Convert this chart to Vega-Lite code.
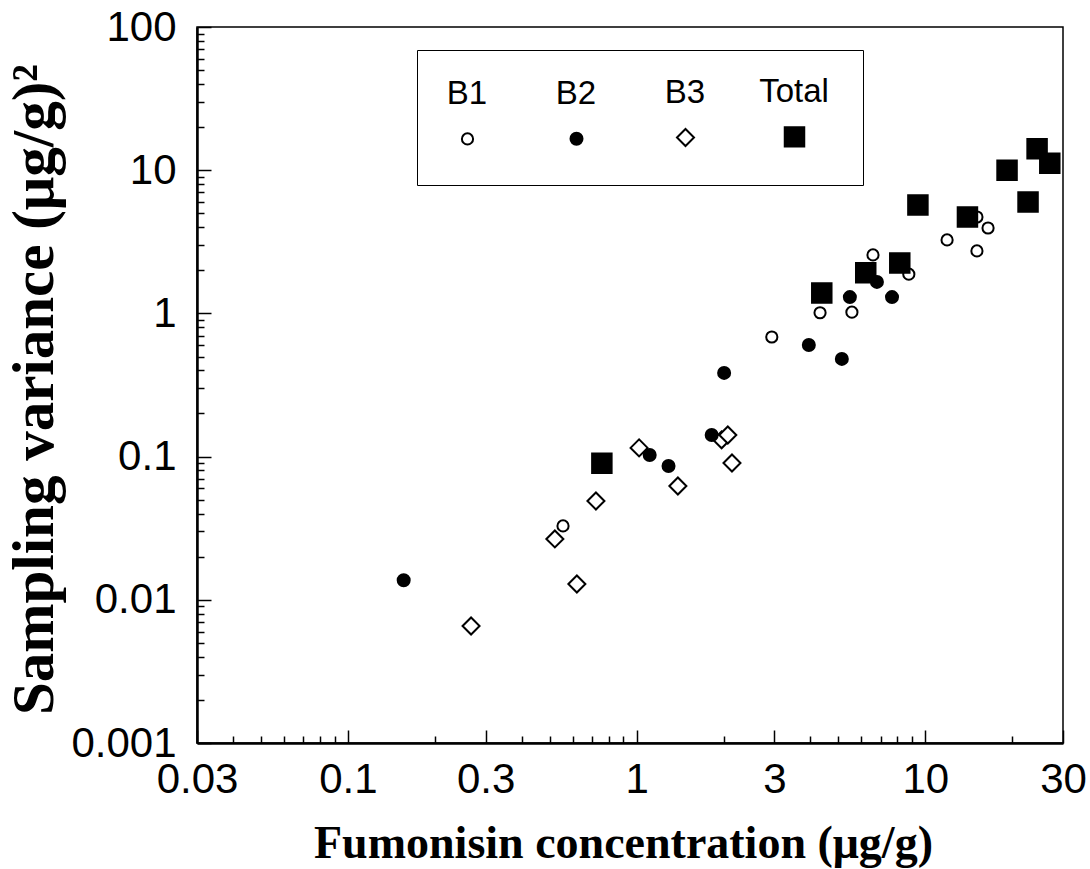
{
  "$schema": "https://vega.github.io/schema/vega-lite/v6.json",
  "width": 866,
  "height": 716,
  "autosize": "none",
  "padding": {"left": 197, "top": 27, "right": 27, "bottom": 126},
  "background": "white",
  "config": {
    "view": {"stroke": "black", "strokeWidth": 1.5},
    "style": {"guide-label": {"lineHeight": 89}},
    "axis": {
      "domainColor": "black",
      "domainWidth": 2.5,
      "tickColor": "black",
      "tickWidth": 1.5,
      "labelColor": "black",
      "labelFont": "Liberation Sans",
      "labelFontSize": 42,
      "labelFlush": false,
      "labelOverlap": false,
      "labelBound": false,
      "titleColor": "black",
      "titleFont": "Liberation Serif",
      "titleFontWeight": "bold",
      "grid": false
    }
  },
  "layer": [
    {
      "data": {
        "values": [
          {"s": "B3", "x": 0.267, "y": 0.00656},
          {"s": "B3", "x": 0.621, "y": 0.0129},
          {"s": "B3", "x": 0.521, "y": 0.0266},
          {"s": "B3", "x": 0.723, "y": 0.049},
          {"s": "B3", "x": 1.02, "y": 0.115},
          {"s": "B3", "x": 1.39, "y": 0.0623},
          {"s": "B3", "x": 1.97, "y": 0.131},
          {"s": "B3", "x": 2.07, "y": 0.1415},
          {"s": "B3", "x": 2.14, "y": 0.0902},
          {"s": "B1", "x": 0.556, "y": 0.0328},
          {"s": "B1", "x": 2.94, "y": 0.684},
          {"s": "B1", "x": 4.32, "y": 1.01},
          {"s": "B1", "x": 5.57, "y": 1.02},
          {"s": "B1", "x": 6.59, "y": 2.56},
          {"s": "B1", "x": 8.77, "y": 1.88},
          {"s": "B1", "x": 11.9, "y": 3.26},
          {"s": "B1", "x": 15.1, "y": 4.71},
          {"s": "B1", "x": 16.5, "y": 3.95},
          {"s": "B1", "x": 15.1, "y": 2.73},
          {"s": "B2", "x": 0.156, "y": 0.0137},
          {"s": "B2", "x": 1.11, "y": 0.1026},
          {"s": "B2", "x": 1.29, "y": 0.086},
          {"s": "B2", "x": 1.82, "y": 0.1415},
          {"s": "B2", "x": 2.01, "y": 0.384},
          {"s": "B2", "x": 3.95, "y": 0.601},
          {"s": "B2", "x": 5.14, "y": 0.481},
          {"s": "B2", "x": 5.48, "y": 1.3},
          {"s": "B2", "x": 6.8, "y": 1.66},
          {"s": "B2", "x": 7.67, "y": 1.3},
          {"s": "Total", "x": 0.758, "y": 0.09},
          {"s": "Total", "x": 4.38, "y": 1.39},
          {"s": "Total", "x": 6.22, "y": 1.92},
          {"s": "Total", "x": 8.16, "y": 2.25},
          {"s": "Total", "x": 9.43, "y": 5.71},
          {"s": "Total", "x": 14.0, "y": 4.71},
          {"s": "Total", "x": 22.7, "y": 6.0},
          {"s": "Total", "x": 19.2, "y": 10.0},
          {"s": "Total", "x": 27.0, "y": 11.2},
          {"s": "Total", "x": 24.4, "y": 14.1}
        ]
      },
      "mark": {"type": "point", "filled": true, "stroke": "black", "strokeWidth": 2, "opacity": 1},
      "encoding": {
        "x": {
          "field": "x", "type": "quantitative",
          "scale": {"type": "log", "domain": [0.03, 30], "nice": false},
          "axis": {
            "orient": "bottom",
            "values": [0.03, 0.1, 0.3, 1, 3, 10, 30],
            "format": "~g",
            "tickSize": -13,
            "labelPadding": 29,
            "title": "Fumonisin concentration (μg/g)",
            "titleFontSize": 46,
            "titleX": 426,
            "titleY": 114,
            "titleAnchor": "middle",
            "titleAlign": "center",
            "titleBaseline": "alphabetic"
          }
        },
        "y": {
          "field": "y", "type": "quantitative",
          "scale": {"type": "log", "domain": [0.001, 100], "nice": false},
          "axis": {
            "orient": "left",
            "values": [0.001, 0.01, 0.1, 1, 10, 100],
            "format": "~g",
            "tickSize": -14,
            "labelPadding": 35,
            "title": "Sampling variance (μg/g)²",
            "titleFontSize": 59,
            "titleX": -163,
            "titleY": 362,
            "titleAngle": 270,
            "titleAlign": "center",
            "titleBaseline": "middle"
          }
        },
        "shape": {
          "field": "s", "type": "nominal",
          "scale": {"domain": ["B1", "B2", "B3", "Total"], "range": ["circle", "circle", "diamond", "square"]},
          "legend": {
            "title": " ",
            "titleFontSize": 16,
            "titlePadding": 20,
            "titleOrient": "top",
            "orient": "none",
            "legendX": 220,
            "legendY": 23,
            "direction": "horizontal",
            "padding": 34,
            "strokeColor": "black",
            "fillColor": "white",
            "labelFont": "Liberation Sans",
            "labelFontSize": 33,
            "labelColor": "black",
            "labelAlign": "center",
            "labelBaseline": "line-bottom",
            "labelOffset": -17,
            "columnPadding": 39,
            "gridAlign": "all",
            "symbolStrokeColor": "black",
            "symbolStrokeWidth": 2
          }
        },
        "fill": {
          "field": "s", "type": "nominal",
          "scale": {"domain": ["B1", "B2", "B3", "Total"], "range": ["white", "black", "white", "black"]}
        },
        "size": {
          "field": "s", "type": "nominal",
          "scale": {"type": "ordinal", "domain": ["B1", "B2", "B3", "Total"], "range": [125, 144, 289, 380]}
        }
      }
    },
    {
      "data": {"values": []},
      "mark": {"type": "point"},
      "encoding": {
        "x": {
          "field": "x", "type": "quantitative",
          "scale": {"type": "log", "domain": [0.03, 30], "nice": false},
          "axis": {
            "orient": "bottom",
            "values": [0.04, 0.05, 0.06, 0.07, 0.08, 0.09, 0.2, 0.4, 0.5, 0.6, 0.7, 0.8, 0.9, 2, 4, 5, 6, 7, 8, 9, 20],
            "labels": false,
            "domain": false,
            "tickSize": -7,
            "title": null
          }
        },
        "y": {
          "field": "y", "type": "quantitative",
          "scale": {"type": "log", "domain": [0.001, 100], "nice": false},
          "axis": {
            "orient": "left",
            "values": [0.002, 0.003, 0.004, 0.005, 0.006, 0.007, 0.008, 0.009, 0.02, 0.03, 0.04, 0.05, 0.06, 0.07, 0.08, 0.09, 0.2, 0.3, 0.4, 0.5, 0.6, 0.7, 0.8, 0.9, 2, 3, 4, 5, 6, 7, 8, 9, 20, 30, 40, 50, 60, 70, 80, 90],
            "labels": false,
            "domain": false,
            "tickSize": -7,
            "title": null
          }
        }
      }
    }
  ],
  "resolve": {"axis": {"x": "independent", "y": "independent"}}
}
